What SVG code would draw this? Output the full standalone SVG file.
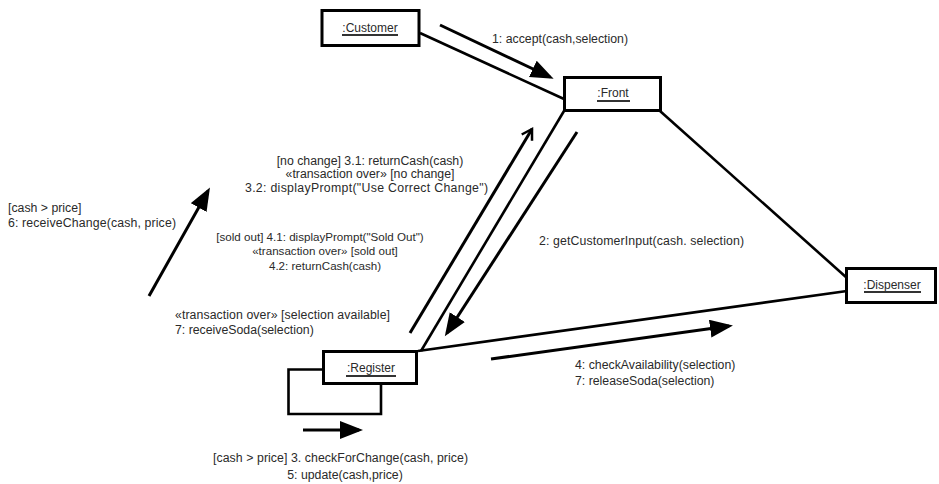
<svg xmlns="http://www.w3.org/2000/svg" width="939" height="484" viewBox="0 0 939 484">
  <style>
    .box { fill: #fff; stroke: #000; stroke-width: 3; }
    .name { font-family: "Liberation Sans", Arial, sans-serif; font-size: 12px; fill: #2a2a2a; text-anchor: middle; }
    .uline { stroke: #333; stroke-width: 2.2; }
    .link { fill: none; stroke: #000; stroke-width: 2.6; }
    .msg { fill: none; stroke: #000; stroke-width: 3; marker-end: url(#head); }
    .msg-open { fill: none; stroke: #000; stroke-width: 3; marker-end: url(#openhead); }
    .lbl { font-family: "Liberation Sans", Arial, sans-serif; font-size: 12.3px; fill: #2a2a2a; }
    .small { font-size: 11.6px; }
    .mid { text-anchor: middle; }
  </style>
  <defs>
    <marker id="head" markerUnits="userSpaceOnUse" markerWidth="26" markerHeight="20" refX="19" refY="9" orient="auto">
      <path d="M0,0 L23,9 L0,18 Z" fill="#000"/>
    </marker>
    <marker id="openhead" markerUnits="userSpaceOnUse" markerWidth="16" markerHeight="16" refX="12" refY="7" orient="auto">
      <path d="M2,1 L12,7 L2,13" fill="none" stroke="#000" stroke-width="2.5"/>
    </marker>
  </defs>
  <rect width="939" height="484" fill="#fff"/>

  <!-- associations and message arrows -->
  <g id="connectors">
    <line class="link" x1="420" y1="33" x2="564" y2="99"/>
    <line class="link" x1="660" y1="111" x2="847" y2="278"/>
    <line class="link" x1="564" y1="111" x2="421" y2="351"/>
    <line class="link" x1="418" y1="351" x2="847" y2="291"/>
    <path class="link" stroke-width="3" d="M323 369.5 H288.5 V414 H381 V385"/>

    <line class="msg" x1="440" y1="25" x2="550" y2="77"/>
    <line class="msg" x1="149" y1="296" x2="208" y2="191"/>
    <line class="msg-open" x1="410" y1="333" x2="532" y2="129"/>
    <line class="msg" x1="577" y1="132" x2="447" y2="333"/>
    <line class="msg" x1="491" y1="359" x2="729" y2="326"/>
    <line class="msg" x1="303" y1="430" x2="359" y2="430"/>
  </g>

  <g id="customer">
    <rect class="box" x="322" y="10.5" width="97" height="35"/>
    <text class="name" x="370" y="32">:Customer</text>
    <line class="uline" x1="342" y1="35" x2="398" y2="35"/>
  </g>

  <g id="front">
    <rect class="box" x="564.5" y="77.5" width="96" height="33"/>
    <text class="name" x="613" y="97">:Front</text>
    <line class="uline" x1="597" y1="101" x2="630" y2="101"/>
  </g>

  <g id="register">
    <rect class="box" x="323.5" y="351.5" width="93" height="32"/>
    <text class="name" x="371" y="372">:Register</text>
    <line class="uline" x1="346" y1="376" x2="396" y2="376"/>
  </g>

  <g id="dispenser">
    <rect class="box" x="846.5" y="268.5" width="89" height="34"/>
    <text class="name" x="892" y="289">:Dispenser</text>
    <line class="uline" x1="864" y1="292" x2="921" y2="292"/>
  </g>

  <!-- message labels -->
  <g id="labels">
    <text class="lbl" x="492" y="43">1: accept(cash,selection)</text>

    <text class="lbl" x="8" y="212">[cash &gt; price]</text>
    <text class="lbl" x="8" y="227" textLength="168">6: receiveChange(cash, price)</text>

    <text class="lbl mid" x="370" y="165">[no change] 3.1: returnCash(cash)</text>
    <text class="lbl mid" x="370" y="178">«transaction over» [no change]</text>
    <text class="lbl" x="245" y="192" textLength="243">3.2: displayPrompt("Use Correct Change")</text>

    <text class="lbl small mid" x="320" y="241">[sold out] 4.1: displayPrompt("Sold Out")</text>
    <text class="lbl small mid" x="325" y="255">«transaction over» [sold out]</text>
    <text class="lbl small mid" x="325" y="270">4.2: returnCash(cash)</text>

    <text class="lbl" x="539" y="245" textLength="205">2: getCustomerInput(cash. selection)</text>

    <text class="lbl" x="175" y="319" textLength="215">«transaction over» [selection available]</text>
    <text class="lbl" x="175" y="334">7: receiveSoda(selection)</text>

    <text class="lbl" x="575" y="369">4: checkAvailability(selection)</text>
    <text class="lbl" x="575" y="385">7: releaseSoda(selection)</text>

    <text class="lbl" x="213" y="462" textLength="255">[cash &gt; price] 3. checkForChange(cash, price)</text>
    <text class="lbl mid" x="345" y="479">5: update(cash,price)</text>
  </g>
</svg>
